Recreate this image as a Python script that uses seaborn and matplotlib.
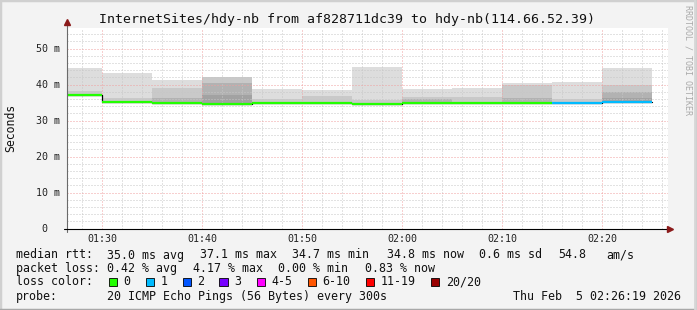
import numpy as np
import matplotlib
matplotlib.use("Agg")
import matplotlib.pyplot as plt
from matplotlib.patches import Rectangle
from matplotlib.lines import Line2D
import seaborn as sns

# ---------------- data ----------------
interval_end = ["01:30", "01:35", "01:40", "01:45", "01:50", "01:55",
                "02:00", "02:05", "02:10", "02:15", "02:20", "02:25"]
median_ms = [37.1, 35.2, 34.9, 34.7, 34.8, 35.0, 34.7, 34.8, 34.8, 35.0, 34.9, 35.1]
lost_pings = [0, 0, 0, 0, 0, 0, 0, 0, 0, 0, 1, 1]
nan = np.nan
smoke_min = [36.9, 35.0, 34.7, 34.5, 34.6, 34.8, 34.5, 34.6, 34.6, 34.8, 34.7, 34.9]
smoke_l1 = [44.6, 43.3, 41.3, nan, 38.8, 38.6, 44.9, 38.8, 39.0, 40.4, 40.7, 44.6]
smoke_l2 = [38.1, 36.2, 39.0, 42.2, 36.1, 36.7, 35.6, 36.5, 36.5, 39.8, 36.1, 39.8]
smoke_l3 = [nan, nan, 36.2, 40.4, nan, nan, nan, 35.9, nan, 36.2, nan, 37.9]
smoke_l4 = [nan, nan, nan, 37.0, nan, nan, nan, nan, nan, nan, nan, 36.2]
smoke_colors = ["#dddddd", "#c9c9c9", "#b2b2b2", "#a2a2a2"]

step_minutes = 5
x_tick_labels = ["01:30", "01:40", "01:50", "02:00", "02:10", "02:20"]
y_ticks = [0, 10, 20, 30, 40, 50]
y_tick_labels = ["0  ", "10 m", "20 m", "30 m", "40 m", "50 m"]

loss_bins = ["0", "1", "2", "3", "4-5", "6-10", "11-19", "20/20"]
loss_colors = ["#22ff00", "#00bbff", "#0055ff", "#7700ff", "#ff00ff",
               "#ff5500", "#ff0000", "#990000"]

title = "InternetSites/hdy-nb from af828711dc39 to hdy-nb(114.66.52.39)"
line1 = [("median rtt:", 16), ("35.0 ms avg", 107.3), ("37.1 ms max", 200),
         ("34.7 ms min", 292.3), ("34.8 ms now", 386.7), ("0.6 ms sd", 479.3),
         ("54.8", 558.3), ("am/s", 606.7)]
line2 = [("packet loss:", 16), ("0.42 % avg", 107.3), ("4.17 % max", 192.7),
         ("0.00 % min", 278.3), ("0.83 % now", 365.0)]
probe_text = "20 ICMP Echo Pings (56 Bytes) every 300s"
date_text = "Thu Feb  5 02:26:19 2026"

# ---------------- helpers ----------------
W, H = 697, 310


def to_min(s):
    h, m = s.split(":")
    return int(h) * 60 + int(m)


def fx(x):
    return x / W


def fy(y):
    return 1 - y / H


def loss_index(n):
    if n <= 3:
        return n
    if n <= 5:
        return 4
    if n <= 10:
        return 5
    if n <= 19:
        return 6
    return 7


ends = np.array([to_min(s) for s in interval_end], dtype=float)
starts = ends - step_minutes
edges = np.r_[starts, ends[-1]]
med = np.array(median_ms)
bottom = np.array(smoke_min)

sns.set_style("white")
plt.rcParams["font.family"] = ["DejaVu Sans Mono"]

fig = plt.figure(figsize=(W / 100, H / 100), dpi=100)
fig.patch.set_facecolor("#f3f3f3")

ax_left, ax_right, ax_top, ax_bottom = 66.7, 667.7, 28.0, 228.5
ax = fig.add_axes([fx(ax_left), fy(ax_bottom), (ax_right - ax_left) / W,
                   (ax_bottom - ax_top) / H])
ax.set_facecolor("white")

# smoke layers
for layer, col in zip([smoke_l1, smoke_l2, smoke_l3, smoke_l4], smoke_colors):
    top = np.array(layer, dtype=float)
    top = np.where(np.isnan(top), bottom, top)
    ax.fill_between(edges, np.r_[bottom, bottom[-1]], np.r_[top, top[-1]],
                    step="post", color=col, linewidth=0, zorder=1)

# black median connector line
sns.lineplot(x=np.r_[starts[0], ends], y=np.r_[med[0], med], drawstyle="steps-pre",
             color="black", linewidth=0.9, ax=ax, zorder=3, errorbar=None)

# coloured median segments
seg_colors = [loss_colors[loss_index(n)] for n in lost_pings]
ax.hlines(med, starts, ends, colors=seg_colors, linewidth=1.6, zorder=4)

# axes ranges
ax.set_xlim(86.45, 146.55)
ax.set_ylim(0, (ax_bottom - ax_top) / 3.6)

ax.set_xticks([to_min(s) for s in x_tick_labels])
ax.set_xticklabels(x_tick_labels)
ax.set_xticks(np.arange(88, 147, 2), minor=True)
ax.set_yticks(y_ticks)
ax.set_yticklabels(y_tick_labels)
ax.set_yticks(np.arange(2, 56, 2), minor=True)

ax.set_axisbelow(False)
ax.grid(which="major", color="#f0a0a0", linestyle=(0, (1, 2)), linewidth=0.72)
ax.grid(which="minor", color="#c6c6c6", linestyle=(0, (1, 2)), linewidth=0.72)

ax.tick_params(axis="x", which="major", direction="in", length=2.5, width=0.72,
               color="#ff8080", labelsize=7.2, pad=4, labelcolor="#222222")
ax.tick_params(axis="x", which="minor", direction="in", length=1.5, width=0.72,
               color="#aaaaaa")
ax.tick_params(axis="y", which="major", direction="out", length=2.5, width=0.72,
               color="#666666", labelsize=7.2, pad=2.5, labelcolor="#222222")
ax.tick_params(axis="y", which="minor", direction="out", length=0)
for sp in ax.spines.values():
    sp.set_visible(False)
ax.set_xlabel("")
ax.set_ylabel("")

# axis lines with arrows
fig.add_artist(Line2D([fx(ax_left), fx(ax_left)], [fy(ax_bottom + 3), fy(23)],
                      color="#6a6a6a", linewidth=0.8))
fig.add_artist(Line2D([fx(ax_left - 3), fx(ax_right + 1)], [fy(ax_bottom), fy(ax_bottom)],
                      color="#000000", linewidth=0.8))
fig.add_artist(Line2D([fx(ax_left)], [fy(22)], marker="^", markersize=4.5,
                      color="#8b1a1a", linestyle="none"))
fig.add_artist(Line2D([fx(670)], [fy(ax_bottom)], marker=">", markersize=4.5,
                      color="#8b1a1a", linestyle="none"))

# texts
fig.text(fx(346.7), fy(19), title, ha="center", va="center", fontsize=9.5, color="#111111")
fig.text(fx(10.5), fy(127.5), "Seconds", rotation=90, ha="center", va="center",
         fontsize=8.3, color="#111111")
fig.text(fx(688), fy(5), "RRDTOOL / TOBI OETIKER", rotation=270, ha="center", va="top",
         fontsize=6, color="#aaaaaa")

fs = 8.35
for txt, x in line1:
    fig.text(fx(x), fy(258.5), txt, ha="left", va="baseline", fontsize=fs, color="#111111")
for txt, x in line2:
    fig.text(fx(x), fy(271.8), txt, ha="left", va="baseline", fontsize=fs, color="#111111")
fig.text(fx(16), fy(285.3), "loss color:", ha="left", va="baseline", fontsize=fs, color="#111111")
box_x = [108.5, 145.5, 182.5, 219.3, 256.7, 307.5, 365.5, 430.7]
for bx, lab, col in zip(box_x, loss_bins, loss_colors):
    fig.add_artist(Rectangle((fx(bx), fy(286)), 8.5 / W, 8.5 / H, facecolor=col,
                             edgecolor="#000000", linewidth=0.6,
                             transform=fig.transFigure))
    fig.text(fx(bx + 15), fy(285.3), lab, ha="left", va="baseline", fontsize=fs,
             color="#111111")
fig.text(fx(16), fy(299.8), "probe:", ha="left", va="baseline", fontsize=fs, color="#111111")
fig.text(fx(107.3), fy(299.8), probe_text, ha="left", va="baseline", fontsize=fs,
         color="#111111")
fig.text(fx(680.7), fy(299.8), date_text, ha="right", va="baseline", fontsize=fs,
         color="#111111")

# image frame
fig.add_artist(Line2D([0, 0, 1], [0, 1, 1], color="#d0d0d0", linewidth=2.5))
fig.add_artist(Line2D([0, 1, 1], [0, 0, 1], color="#a8a8a8", linewidth=2.5))
fig.add_artist(Line2D([fx(694.5), fx(694.5)], [0, 1], color="#d6d6d6", linewidth=2))

fig.savefig("out.png", dpi=100, facecolor=fig.get_facecolor())
